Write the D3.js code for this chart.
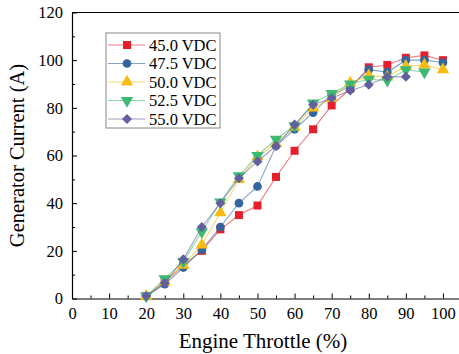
<!DOCTYPE html>
<html>
<head>
<meta charset="utf-8">
<script src="https://cdn.jsdelivr.net/npm/d3@7"></script>
<style>
  body { margin: 0; background: #fff; }
  svg { font-family: "Liberation Serif", "Times New Roman", serif; }
</style>
</head>
<body>
<svg id="chart"></svg>
<script>
// throttle settings (%)
const throttle = [20, 25, 30, 35, 40, 45, 50, 55, 60, 65, 70, 75, 80, 85, 90, 95, 100];

// generator current (A) for each supply voltage
const v450 = [1, 7, 14, 20, 29, 35, 39, 51, 62, 71, 81, 88, 97, 98, 101, 102, 100];
const v475 = [1, 6, 13, 20.5, 30, 40, 47, 64, 71, 78, 85.5, 89, 96, 95, 100, 100, 99];
const v500 = [1, 7, 14, 22.5, 36, 50, 59.5, 65, 72, 80, 84, 90.5, 93.5, 93, 97.5, 98, 96];
const v525 = [1, 8.3, 15.5, 28, 40.5, 51.5, 60, 66.8, 72.5, 82, 86, 90, 92, 91.5, 96, 95];
const v550 = [1, 6.5, 16.5, 30, 40, 50.5, 57.5, 64, 73, 81.3, 84, 87.3, 89.7, 93, 93];

const seriesNames = ['45.0 VDC', '47.5 VDC', '50.0 VDC', '52.5 VDC', '55.0 VDC'];
const seriesValues = [v450, v475, v500, v525, v550];

const xTicks = [0, 10, 20, 30, 40, 50, 60, 70, 80, 90, 100];
const yTicks = [0, 20, 40, 60, 80, 100, 120];

(() => {
  const width = 459;
  const height = 354;

  const svg = d3.select('svg#chart')
    .attr('width', width)
    .attr('height', height);

  const xScale = d3.scaleLinear().domain([0, 105]).range([72, 461.5]);
  const yScale = d3.scaleLinear().domain([0, 120]).range([298.5, 12.5]);

  const colors = ['#e5202b', '#34659f', '#f7bc12', '#3dba72', '#625f9f'];
  const shapes = [
    { type: d3.symbolSquare, size: 64, rotate: 0 },
    { type: d3.symbolCircle, size: 60, rotate: 0 },
    { type: d3.symbolTriangle, size: 66, rotate: 0 },
    { type: d3.symbolTriangle, size: 66, rotate: 180 },
    { type: d3.symbolSquare, size: 50, rotate: 45 },
  ];

  // frame top line
  svg.append('line')
    .attr('x1', xScale(0)).attr('x2', xScale(105))
    .attr('y1', yScale(120)).attr('y2', yScale(120))
    .attr('stroke', '#000').attr('stroke-width', 1);

  // minor ticks
  svg.append('g')
    .attr('transform', `translate(0,${yScale(0)})`)
    .call(d3.axisBottom(xScale).tickValues(d3.range(5, 105, 10)).tickSize(-3).tickFormat(''))
    .call(g => g.select('.domain').remove());
  svg.append('g')
    .attr('transform', `translate(${xScale(0)},0)`)
    .call(d3.axisLeft(yScale).tickValues(d3.range(10, 120, 20)).tickSize(-3).tickFormat(''))
    .call(g => g.select('.domain').remove());

  const xAxis = svg.append('g')
    .attr('transform', `translate(0,${yScale(0)})`)
    .call(d3.axisBottom(xScale).tickValues(xTicks).tickSizeInner(-5).tickSizeOuter(0).tickPadding(9));
  xAxis.selectAll('text')
    .style('font-family', '"Liberation Serif", serif')
    .style('font-size', '16.5px')
    .attr('fill', '#000');

  const yAxis = svg.append('g')
    .attr('transform', `translate(${xScale(0)},0)`)
    .call(d3.axisLeft(yScale).tickValues(yTicks).tickSizeInner(-5).tickSizeOuter(0).tickPadding(9));
  yAxis.selectAll('text')
    .style('font-family', '"Liberation Serif", serif')
    .style('font-size', '16.5px')
    .attr('fill', '#000');

  svg.selectAll('.domain').attr('stroke', '#000').attr('stroke-width', 1.2);

  // axis titles
  svg.append('text')
    .attr('x', 263)
    .attr('y', 348)
    .attr('text-anchor', 'middle')
    .style('font-size', '21px')
    .text('Engine Throttle (%)');

  svg.append('text')
    .attr('transform', `translate(24,${(yScale(0) + yScale(120)) / 2}) rotate(-90)`)
    .attr('text-anchor', 'middle')
    .style('font-size', '20.5px')
    .text('Generator Current (A)');

  const line = d3.line()
    .x((d, i) => xScale(throttle[i]))
    .y(d => yScale(d));

  seriesValues.forEach((vals, s) => {
    const g = svg.append('g');
    g.append('path')
      .datum(vals)
      .attr('d', line)
      .attr('fill', 'none')
      .attr('stroke', colors[s])
      .attr('stroke-opacity', 0.6)
      .attr('stroke-width', 1.1);
    g.selectAll('path.pt')
      .data(vals)
      .enter()
      .append('path')
        .attr('class', 'pt')
        .attr('d', d3.symbol().type(shapes[s].type).size(shapes[s].size))
        .attr('transform', (d, i) => `translate(${xScale(throttle[i])},${yScale(d)}) rotate(${shapes[s].rotate})`)
        .attr('fill', colors[s]);
  });

  // legend
  const legend = svg.append('g');
  legend.append('rect')
    .attr('x', 106).attr('y', 33)
    .attr('width', 114).attr('height', 95)
    .attr('fill', '#fff')
    .attr('stroke', '#888')
    .attr('stroke-width', 1);

  seriesNames.forEach((name, s) => {
    const y = 45 + s * 18.5;
    legend.append('line')
      .attr('x1', 108).attr('x2', 145)
      .attr('y1', y).attr('y2', y)
      .attr('stroke', colors[s])
      .attr('stroke-opacity', 0.6)
      .attr('stroke-width', 1.1);
    legend.append('path')
      .attr('d', d3.symbol().type(shapes[s].type).size(shapes[s].size))
      .attr('transform', `translate(127,${y}) rotate(${shapes[s].rotate})`)
      .attr('fill', colors[s]);
    legend.append('text')
      .attr('x', 149)
      .attr('y', y + 5.5)
      .style('font-size', '16.5px')
      .text(name);
  });
})();
</script>
</body>
</html>
